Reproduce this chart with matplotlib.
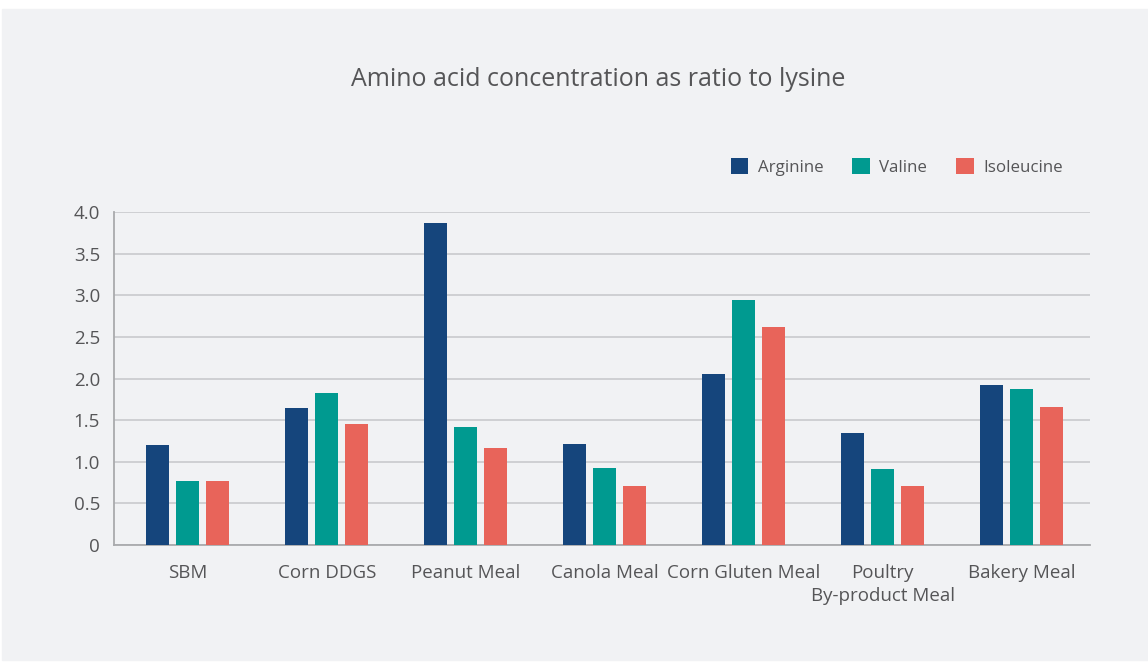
import matplotlib.pyplot as plt
import numpy as np

plt.rcParams['font.family'] = ['Open Sans', 'DejaVu Sans']

feeds = ['SBM', 'Corn DDGS', 'Peanut Meal', 'Canola Meal', 'Corn Gluten Meal',
         'Poultry\nBy-product Meal', 'Bakery Meal']
arginine = [1.20, 1.65, 3.87, 1.21, 2.05, 1.35, 1.92]
valine = [0.77, 1.83, 1.42, 0.92, 2.94, 0.91, 1.87]
isoleucine = [0.77, 1.45, 1.17, 0.71, 2.62, 0.71, 1.66]

bg = '#f1f2f4'
txt = '#555557'

fig = plt.figure(figsize=(11.48, 6.62), dpi=100)
# grey panel behind everything
fig.patches.append(plt.Rectangle((2/1148, 2/662), 1146/1148, 651/662,
                                 transform=fig.transFigure, color=bg, zorder=-1))
ax = fig.add_axes([114/1148, 1 - 545/662, 976/1148, 333/662])
ax.set_facecolor(bg)

x = np.arange(len(feeds))
w = 0.165
ax.bar(x - 0.216, arginine, w, color='#15457c', label='Arginine', zorder=3)
ax.bar(x, valine, w, color='#009a90', label='Valine', zorder=3)
ax.bar(x + 0.216, isoleucine, w, color='#e8645a', label='Isoleucine', zorder=3)

ax.set_xlim(-0.53, 6.49)
ax.set_ylim(0, 4.0)
ax.set_yticks(np.arange(0, 4.01, 0.5))
ax.set_yticklabels(['0'] + ['%.1f' % v for v in np.arange(0.5, 4.01, 0.5)])
ax.yaxis.grid(True, color='#c9cacd', linewidth=1.2, zorder=0)
ax.set_xticks(x)
ax.set_xticklabels(feeds, linespacing=1.3)
ax.tick_params(axis='both', length=0, colors=txt, labelsize=13.5)
ax.tick_params(axis='x', pad=14)
ax.tick_params(axis='y', pad=10)
for s in ['top', 'right']:
    ax.spines[s].set_visible(False)
for s in ['left', 'bottom']:
    ax.spines[s].set_color('#a9aaad')
    ax.spines[s].set_linewidth(1.3)

fig.text(598/1148, 1 - 79/662, 'Amino acid concentration as ratio to lysine',
         ha='center', va='center', fontsize=18, color=txt)

leg = ax.legend(loc='center right', bbox_to_anchor=(1078/1148, 1 - 167/662),
                bbox_transform=fig.transFigure, ncol=3, frameon=False,
                fontsize=12.2, handlelength=1.05, handleheight=1.05,
                handletextpad=0.55, columnspacing=1.7)
for t in leg.get_texts():
    t.set_color(txt)

fig.savefig('out.png', dpi=100, facecolor='white')
